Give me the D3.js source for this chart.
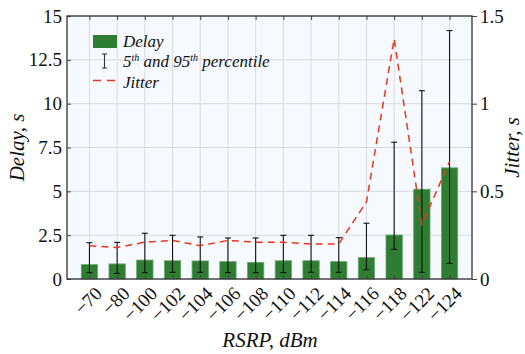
<!DOCTYPE html>
<html>
<head>
<meta charset="utf-8">
<script src="https://cdn.jsdelivr.net/npm/d3@7"></script>
<style>
  html, body { margin: 0; padding: 0; background: #ffffff; }
  svg { display: block; }
  svg text { fill: #111; }
</style>
</head>
<body>
<svg id="chart" width="525" height="354"></svg>
<script>
// RSRP bins (dBm)
const categories = ["\u221270", "\u221280", "\u2212100", "\u2212102", "\u2212104", "\u2212106", "\u2212108",
                    "\u2212110", "\u2212112", "\u2212114", "\u2212116", "\u2212118", "\u2212122", "\u2212124"];
// Mean delay, s
const delay = [0.82, 0.86, 1.08, 1.04, 1.03, 0.99, 0.95, 1.04, 1.04, 0.99, 1.22, 2.51, 5.12, 6.34];
// 5th percentile of delay, s
const p5 = [0.36, 0.32, 0.36, 0.38, 0.38, 0.36, 0.36, 0.36, 0.38, 0.38, 0.53, 1.69, 0.38, 0.89];
// 95th percentile of delay, s
const p95 = [2.07, 2.09, 2.61, 2.49, 2.40, 2.34, 2.34, 2.49, 2.49, 2.36, 3.18, 7.80, 10.74, 14.17];
// Jitter, s
const jitter = [0.19, 0.18, 0.21, 0.22, 0.19, 0.22, 0.21, 0.21, 0.20, 0.20, 0.44, 1.37, 0.31, 0.67];
// Axis ticks
const delayTicks = [0, 2.5, 5, 7.5, 10, 12.5, 15];
const jitterTicks = [0, 0.5, 1, 1.5];

const svg = d3.select("#chart");
const L = 67, R = 472, T = 16, B = 279;
const FONT = "Tinos, 'Liberation Serif', 'Times New Roman', Times, 'Nimbus Roman', 'Nimbus Roman No9 L', FreeSerif, 'Noto Serif', 'DejaVu Serif', Georgia, serif";
svg.attr("font-family", FONT);

const x = d3.scalePoint().domain(categories).range([L, R]).padding(0.81);
const yL = d3.scaleLinear().domain([0, 15]).range([B, T]);
const yR = d3.scaleLinear().domain([0, 1.5]).range([B, T]);
const barW = x.step() * 0.59;

// plot background
svg.append("rect").attr("x", L).attr("y", T).attr("width", R - L).attr("height", B - T)
  .attr("fill", "#f6faff");

// grid
const grid = svg.append("g").attr("stroke", "#d8dce2").attr("stroke-width", 1);
grid.selectAll("line.v").data(categories).join("line")
  .attr("x1", d => x(d)).attr("x2", d => x(d)).attr("y1", T).attr("y2", B);
grid.selectAll("line.h").data(delayTicks).join("line")
  .attr("x1", L).attr("x2", R).attr("y1", d => yL(d)).attr("y2", d => yL(d));

// bars
svg.append("g").selectAll("rect").data(categories).join("rect")
  .attr("x", d => x(d) - barW / 2)
  .attr("y", (d, i) => yL(delay[i]))
  .attr("width", barW)
  .attr("height", (d, i) => B - yL(delay[i]))
  .attr("fill", "#2e7d32")
  .attr("stroke", "#6aa86d").attr("stroke-width", 0.8);

// error bars (5th / 95th percentile)
const eb = svg.append("g").attr("stroke", "#111").attr("stroke-width", 1.1);
categories.forEach((c, i) => {
  const cx = x(c);
  eb.append("line").attr("x1", cx).attr("x2", cx).attr("y1", yL(p5[i])).attr("y2", yL(p95[i]));
  eb.append("line").attr("x1", cx - 3).attr("x2", cx + 3).attr("y1", yL(p5[i])).attr("y2", yL(p5[i]));
  eb.append("line").attr("x1", cx - 3).attr("x2", cx + 3).attr("y1", yL(p95[i])).attr("y2", yL(p95[i]));
});

// jitter line
const line = d3.line().x((d, i) => x(categories[i])).y(d => yR(d));
svg.append("path").datum(jitter)
  .attr("d", line)
  .attr("fill", "none")
  .attr("stroke", "#e8371d")
  .attr("stroke-width", 1.5)
  .attr("stroke-dasharray", "7,5");

// axes
const axL = svg.append("g").attr("transform", `translate(${L},0)`)
  .call(d3.axisLeft(yL).tickValues(delayTicks).tickSize(-4).tickPadding(5)
    .tickFormat(d => String(d)));
const axR = svg.append("g").attr("transform", `translate(${R},0)`)
  .call(d3.axisRight(yR).tickValues(jitterTicks).tickSize(5).tickPadding(3)
    .tickFormat(d => String(d)));
const axB = svg.append("g").attr("transform", `translate(0,${B})`)
  .call(d3.axisBottom(x).tickSize(-4).tickFormat(""));
const axT = svg.append("g").attr("transform", `translate(0,${T})`)
  .call(d3.axisTop(x).tickSize(-4).tickFormat(""));

[axL, axR, axB, axT].forEach(g => {
  g.attr("font-family", FONT).attr("font-size", 19);
  g.select(".domain").remove();
  g.selectAll(".tick line").attr("stroke", "#444").attr("stroke-width", 1);
  g.selectAll("text").attr("fill", "#111");
});

// frame
svg.append("rect").attr("x", L).attr("y", T).attr("width", R - L).attr("height", B - T)
  .attr("fill", "none").attr("stroke", "#333").attr("stroke-width", 1.3);

// rotated category labels
svg.append("g").selectAll("text").data(categories).join("text")
  .attr("transform", d => `translate(${x(d) + 9},${B + 11}) rotate(-45)`)
  .attr("text-anchor", "end")
  .attr("dy", "0.35em")
  .attr("font-size", 19)
  .text(d => d);

// axis titles
const titles = svg.append("g").attr("font-size", 21).attr("font-style", "italic");
titles.append("text").attr("x", 270).attr("y", 347).attr("text-anchor", "middle").text("RSRP, dBm");
titles.append("text").attr("transform", `translate(24,${(T + B) / 2}) rotate(-90)`)
  .attr("text-anchor", "middle").text("Delay, s");
titles.append("text").attr("transform", `translate(519,${(T + B) / 2}) rotate(-90)`)
  .attr("text-anchor", "middle").text("Jitter, s");

// legend
const lg = svg.append("g");
lg.append("rect").attr("x", 93).attr("y", 35).attr("width", 24).attr("height", 13).attr("fill", "#2e7d32");
lg.append("text").attr("x", 123).attr("y", 47).attr("font-size", 17).attr("font-style", "italic").text("Delay");

const ebx = 104.5;
lg.append("line").attr("x1", ebx).attr("x2", ebx).attr("y1", 54).attr("y2", 68).attr("stroke", "#333").attr("stroke-width", 1.1);
lg.append("line").attr("x1", ebx - 2.5).attr("x2", ebx + 2.5).attr("y1", 54).attr("y2", 54).attr("stroke", "#333").attr("stroke-width", 1.1);
lg.append("line").attr("x1", ebx - 2.5).attr("x2", ebx + 2.5).attr("y1", 68).attr("y2", 68).attr("stroke", "#333").attr("stroke-width", 1.1);
const pt = lg.append("text").attr("x", 123).attr("y", 67).attr("font-size", 17).attr("font-style", "italic");
pt.append("tspan").text("5");
pt.append("tspan").attr("dy", -6).attr("font-size", 10).text("th");
pt.append("tspan").attr("dy", 6).text(" and 95");
pt.append("tspan").attr("dy", -6).attr("font-size", 10).text("th");
pt.append("tspan").attr("dy", 6).text(" percentile");

lg.append("line").attr("x1", 93).attr("x2", 117).attr("y1", 80.5).attr("y2", 80.5)
  .attr("stroke", "#e8371d").attr("stroke-width", 1.5).attr("stroke-dasharray", "8,6");
lg.append("text").attr("x", 123).attr("y", 88).attr("font-size", 17).attr("font-style", "italic").text("Jitter");
</script>
</body>
</html>
